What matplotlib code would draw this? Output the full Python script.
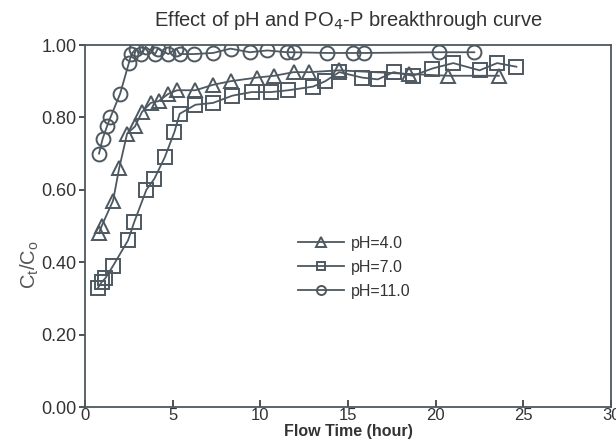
import matplotlib
matplotlib.use("Agg")
import matplotlib.pyplot as plt

plt.rcParams['font.family'] = ['Liberation Sans', 'DejaVu Sans']

title = "Effect of pH and PO$_4$-P breakthrough curve"
xlabel = "Flow Time (hour)"
ylabel = r"C$_\mathregular{t}$/C$_\mathregular{o}$"

t_ph4 = [0.8, 0.95, 1.6, 1.95, 2.4, 2.85, 3.25, 3.75, 4.2, 4.75, 5.25, 6.3, 7.3, 8.3, 9.8, 10.8, 11.9, 12.8, 14.5, 18.5, 20.7, 23.6]
v_ph4 = [0.48, 0.50, 0.57, 0.66, 0.755, 0.775, 0.815, 0.84, 0.845, 0.865, 0.875, 0.875, 0.89, 0.90, 0.91, 0.915, 0.925, 0.925, 0.93, 0.92, 0.915, 0.915]

t_ph7 = [0.75, 0.95, 1.15, 1.6, 2.45, 2.8, 3.5, 3.95, 4.55, 5.1, 5.4, 6.3, 7.3, 8.4, 9.5, 10.6, 11.6, 13.0, 13.7, 14.5, 15.8, 16.7, 17.6, 18.7, 19.8, 21.0, 22.5, 23.5, 24.6]
v_ph7 = [0.33, 0.345, 0.355, 0.39, 0.46, 0.51, 0.60, 0.63, 0.69, 0.76, 0.81, 0.835, 0.84, 0.86, 0.87, 0.87, 0.875, 0.885, 0.90, 0.925, 0.91, 0.905, 0.925, 0.915, 0.935, 0.95, 0.93, 0.95, 0.94]

t_ph11 = [0.8, 1.0, 1.25, 1.45, 2.0, 2.5, 2.65, 2.9, 3.2, 3.45, 4.0, 4.15, 4.75, 5.2, 5.4, 6.2, 7.3, 8.3, 9.4, 10.4, 11.5, 11.9, 13.8, 15.3, 15.9, 20.2, 22.2]
v_ph11 = [0.70, 0.74, 0.775, 0.80, 0.865, 0.95, 0.975, 0.99, 0.975, 0.995, 0.975, 0.99, 0.975, 0.99, 0.975, 0.975, 0.978, 0.99, 0.98, 0.985, 0.98, 0.98, 0.978, 0.978, 0.978, 0.98, 0.98]

labels = ["pH=4.0", "pH=7.0", "pH=11.0"]

col = "#4d5860"
txt = "#333333"
fig = plt.figure(figsize=(6.16, 4.40), dpi=100)
ax = fig.add_axes([0.138, 1 - 407 / 440, 0.854, 362 / 440])

common = dict(color=col, lw=1.3, markerfacecolor='none', markeredgecolor=col, markeredgewidth=1.4)
ax.plot(t_ph4, v_ph4, marker='^', markersize=10, label=labels[0], **common)
ax.plot(t_ph7, v_ph7, marker='s', markersize=9.5, label=labels[1], **common)
ax.plot(t_ph11, v_ph11, marker='o', markersize=10, label=labels[2], **common)

ax.set_xlim(0, 30)
ax.set_ylim(0, 1.0)
ax.set_xticks([0, 5, 10, 15, 20, 25, 30])
ax.set_yticks([0, 0.2, 0.4, 0.6, 0.8, 1.0])
ax.set_yticklabels(["0.00", "0.20", "0.40", "0.60", "0.80", "1.00"])
ax.tick_params(axis='x', direction='in', length=5, width=1.2, colors=txt, labelsize=12, pad=1)
ax.tick_params(axis='y', direction='out', length=4, width=1.2, colors=txt, labelsize=13, pad=2)
for s in ax.spines.values():
    s.set_color(col)
    s.set_linewidth(1.3)

ax.set_title(title, fontsize=14.5, color=txt, pad=14)
ax.set_xlabel(xlabel, fontsize=11.5, color=txt, fontweight='bold')
ax.xaxis.label.set_verticalalignment('baseline')
ax.xaxis.set_label_coords(0.5, (407 - 436) / 362)
fig.text(30 / 616, 1 - 265 / 440, ylabel, rotation=90, fontsize=14.5, color='#555555',
         ha='center', va='center')

ax.legend(loc='upper left', bbox_to_anchor=(0.392, 0.49), borderaxespad=0, frameon=False,
          fontsize=11.5, markerscale=0.65, handlelength=2.9, labelspacing=0.55,
          handletextpad=0.45, labelcolor=txt)

fig.savefig("out.png", dpi=100)
